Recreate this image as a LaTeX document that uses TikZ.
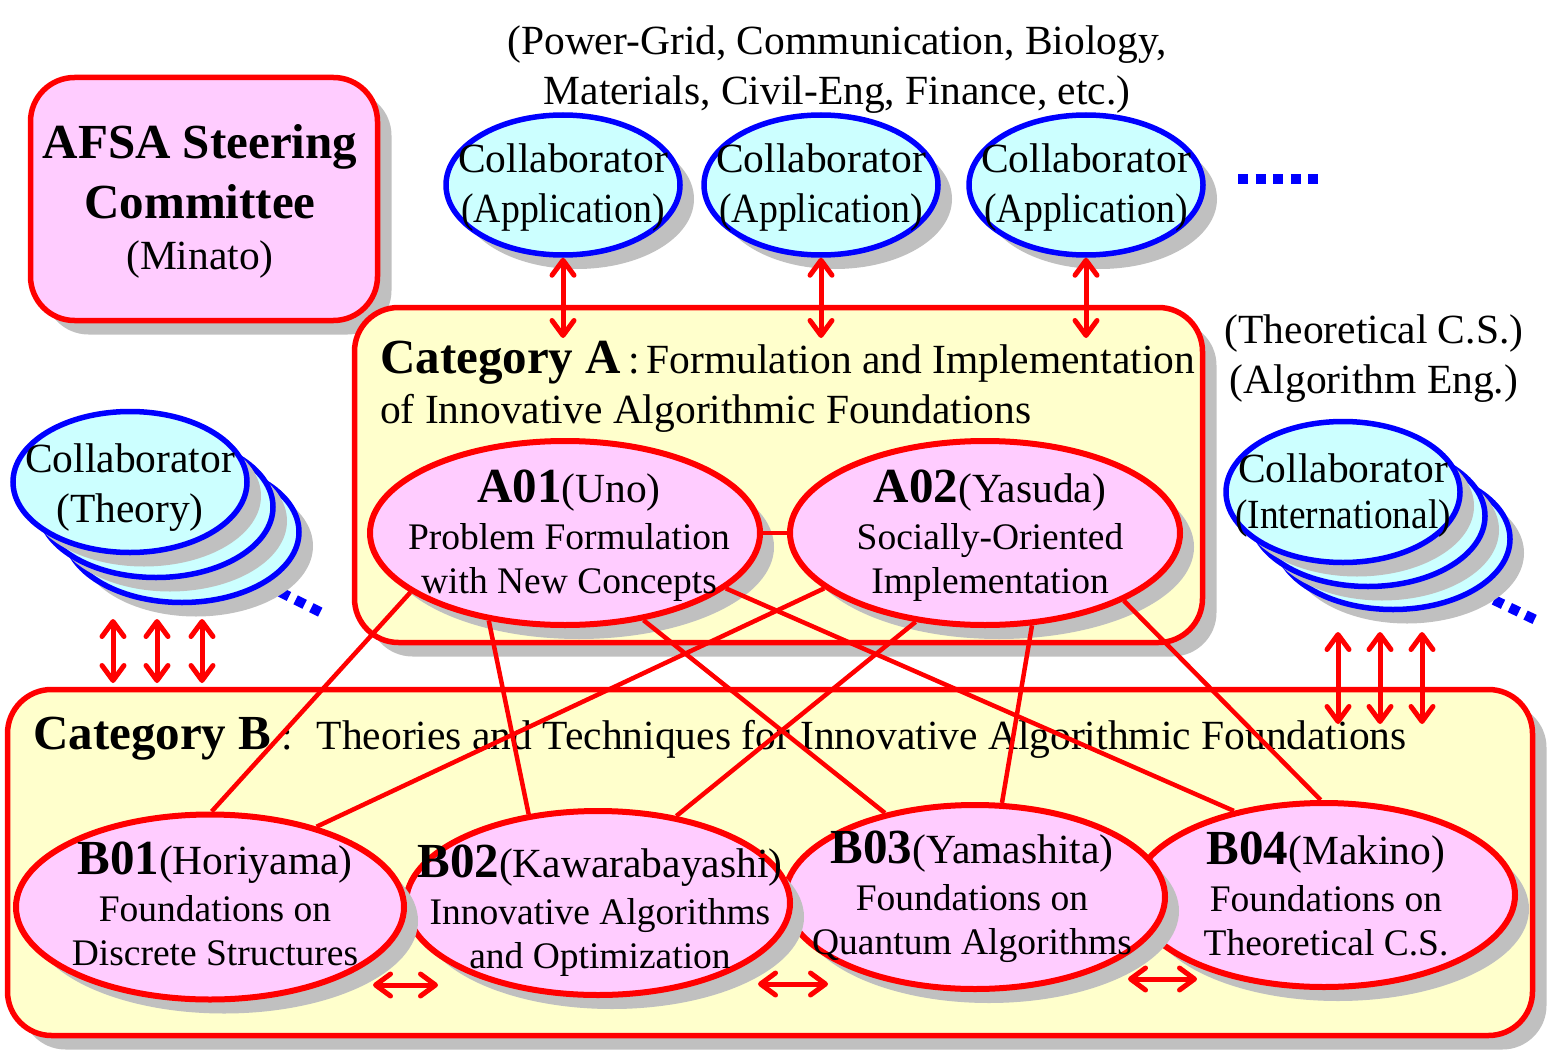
\documentclass[tikz,border=0pt]{standalone}
\usepackage{fontspec}
\setmainfont{Liberation Serif}
\usepackage{graphicx}
\usetikzlibrary{arrows.meta,shapes.geometric,shadows}
\pgfdeclarelayer{front}
\pgfsetlayers{main,front}

\definecolor{afsared}{RGB}{255,0,0}
\definecolor{afsablue}{RGB}{0,0,255}
\definecolor{pinkfill}{RGB}{255,204,255}
\definecolor{cyanfill}{RGB}{204,255,255}
\definecolor{creamfill}{RGB}{255,255,204}
\definecolor{shadowgray}{RGB}{192,192,192}

\newcommand{\mainsize}{\fontsize{41.5}{50}\selectfont}
\newcommand{\bodysize}{\fontsize{37.5}{44}\selectfont}
\newcommand{\headsize}{\fontsize{49}{58}\selectfont\bfseries}

\tikzset{
  grayshadow/.style={drop shadow={shadow xshift=14pt, shadow yshift=-14pt,
      fill=shadowgray, opacity=1}},
  redbox/.style={draw=afsared, line width=5.5pt, rounded corners=44pt,
      grayshadow, inner sep=0pt},
  pinkoval/.style={ellipse, draw=afsared, line width=6pt, fill=pinkfill,
      grayshadow, inner sep=0pt},
  cyanoval/.style={ellipse, draw=afsablue, line width=5.5pt, fill=cyanfill,
      grayshadow, inner sep=0pt, minimum width=234pt, minimum height=140pt},
  ovaltext/.style={align=center, font=\bodysize, inner sep=0pt},
  plaintext/.style={align=center, font=\mainsize, inner sep=0pt},
  titletext/.style={font=\mainsize, anchor=base west, inner sep=0pt},
  link/.style={draw=afsared, line width=4.5pt},
  dblarrow/.style={<->, draw=afsared, line width=5pt},
  bluedots/.style={draw=afsablue, line width=10pt, dash pattern=on 10pt off 7.5pt}
}

\begin{document}
\begin{tikzpicture}[x=1pt, y=-1pt,
                    >={Straight Barb[length=15pt,width=22pt,round]}]
  \useasboundingbox (0,0) rectangle (1550,1054);

  % steering committee
  \node[redbox, fill=pinkfill, minimum width=347pt, minimum height=243pt]
       (steer) at (204,199) {};
  \node[plaintext] (steer-text) at (200,201)
       {{\headsize AFSA Steering}\\[10pt]{\headsize Committee}\\[1pt](Minato)};

  % category boxes and titles
  \node[redbox, fill=creamfill, minimum width=848pt, minimum height=335pt]
       (catA) at (778.5,475) {};
  \node[redbox, fill=creamfill, minimum width=1525pt, minimum height=346pt]
       (catB) at (770,862.5) {};
  \node[titletext] (catA-title) at (380,373)
       {{\headsize Category A}\hspace{7pt}:\hspace{7pt}Formulation and Implementation};
  \node[titletext] (catA-sub) at (380,423) {of Innovative Algorithmic Foundations};
  \node[titletext] (catB-title) at (33,749)
       {{\headsize Category B}\hspace{10pt}:\hspace{24pt}Theories and Techniques for Innovative Algorithmic Foundations};

  % category A groups
  \node[pinkoval, minimum width=390pt, minimum height=184pt] (A01) at (565,533) {};
  \node[ovaltext] (A01-text) at (569,536)
       {{\headsize A01}{\mainsize(Uno)}\\[3pt]Problem Formulation\\with New Concepts};
  \node[pinkoval, minimum width=390pt, minimum height=184pt] (A02) at (985,533) {};
  \node[ovaltext] (A02-text) at (990,536)
       {{\headsize A02}{\mainsize(Yasuda)}\\[3pt]Socially-Oriented\\Implementation};
  \draw[link] (A01.east) -- (A02.west);

  % application collaborators
  \foreach \n/\x in {1/563, 2/821, 3/1086} {
    \node[cyanoval] (app\n) at (\x,185) {};
    \node[plaintext] (app\n-text) at (\x,188)
         {Collaborator\\\scalebox{0.91}[1]{(Application)}};
  }
  \draw[bluedots] (1238,179) -- (1318,179);

  % theory collaborators (stack)
  \draw[bluedots] (280,592) -- (324,614);
  \foreach \n/\x/\y in {3/182/532, 2/156/507, 1/130/482}
    \node[cyanoval, minimum height=141pt] (thy\n) at (\x,\y) {};
  \node[plaintext] (thy-text) at (130,488) {Collaborator\\(Theory)};

  % international collaborators (stack)
  \draw[bluedots] (1494,600) -- (1540,622);
  \foreach \n/\x/\y in {3/1393/539, 2/1368/516, 1/1343/492}
    \node[cyanoval, minimum height=141pt] (intl\n) at (\x,\y) {};
  \node[plaintext] (intl-text) at (1343,496)
       {Collaborator\\[-4pt]\scalebox{0.9}[1]{(International)}};

  % vertical exchange arrows
  \coordinate (catA-in) at (0,338);
  \foreach \n in {1,2,3}
    \draw[dblarrow] (app\n.south) -- (app\n.south |- catA-in);
  \coordinate (thy-foot) at (0,619);
  \coordinate (catB-top) at (0,683);
  \foreach \x in {113,157,202}
    \draw[dblarrow] ([xshift=\x pt]thy-foot) -- ([xshift=\x pt]catB-top);
  \coordinate (intl-foot) at (0,632);
  \coordinate (catB-in) at (0,724);
  \foreach \x in {1338,1380,1422}
    \draw[dblarrow] ([xshift=\x pt]intl-foot) -- ([xshift=\x pt]catB-in);

  % category B groups (front layer, over the links)
  \begin{pgfonlayer}{front}
    \node[pinkoval, minimum width=382pt, minimum height=184pt] (B04) at (1324,895) {};
    \node[ovaltext] (B04-text) at (1326,894)
         {{\headsize B04}{\mainsize(Makino)}\\[3pt]Foundations on\\Theoretical C.S.};
    \node[pinkoval, minimum width=380pt, minimum height=184pt] (B03) at (975,897) {};
    \node[ovaltext] (B03-text) at (972,897)
         {{\headsize B03}{\mainsize(Yamashita)}\\[3pt]Foundations on\\Quantum Algorithms};
    \node[pinkoval, minimum width=384pt, minimum height=184pt] (B02) at (598,903) {};
    \node[ovaltext] (B02-text) at (600,911)
         {{\headsize B02}{\mainsize(Kawarabayashi)}\\[3pt]Innovative Algorithms\\and Optimization};
    \node[pinkoval, minimum width=388pt, minimum height=185pt] (B01) at (210,907) {};
    \node[ovaltext] (B01-text) at (215,904)
         {{\headsize B01}{\mainsize(Horiyama)}\\[3pt]Foundations on\\Discrete Structures};
    % exchange between neighbouring groups
    \foreach \n/\xa/\xb/\yy in {12/373/438/985, 23/758/828/984, 34/1128/1197/979} {
      \coordinate (gap\n-l) at (\xa,\yy);
      \coordinate (gap\n-r) at (\xb,\yy);
      \draw[dblarrow] (gap\n-l) -- (gap\n-r);
    }
  \end{pgfonlayer}

  % links between A and B groups
  \foreach \a/\b in {A01.201/B01.89, A01.229/B02.128, A01.312/B03.137, A01.341/B04.137,
                     A02.199/B01.37, A02.232/B02.48, A02.297/B03.74, A02.334/B04.92}
    \draw[link] (\a) -- (\b);

  % field notes
  \node[plaintext] (app-fields) at (837,70)
       {(Power-Grid, Communication, Biology,\\Materials, Civil-Eng, Finance, etc.)};
  \node[plaintext] (intl-fields) at (1374,359) {(Theoretical C.S.)\\(Algorithm Eng.)};
\end{tikzpicture}
\end{document}
